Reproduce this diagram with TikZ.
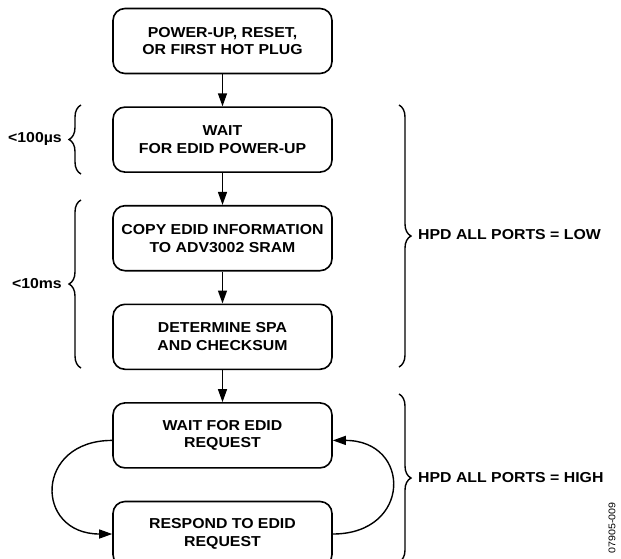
\documentclass[tikz,border=0pt]{standalone}
\usepackage{fontspec}
\setmainfont{Liberation Sans}[FakeStretch=1.1]
\usetikzlibrary{arrows.meta,positioning,decorations.pathreplacing}

\begin{document}
\begin{tikzpicture}[x=1pt, y=-1pt, node distance = 32pt,
                    auto, main/.style = {draw, line width=1.6pt, rounded corners=12pt,
                      minimum width=219pt, minimum height=65pt, inner sep=0pt, align=center,
                      font=\fontsize{14.4}{17.7}\selectfont\bfseries},
                    arr/.style = {-{Triangle[length=13pt,width=9pt]}, line width=1.4pt},
                    brc/.style = {decorate, decoration={brace, amplitude=#1}, line width=1.4pt},
                    lbl/.style = {font=\fontsize{14.4}{17}\selectfont\bfseries, inner sep=0pt}]
\useasboundingbox (0,0) rectangle (621,558);
\node[main] (pwr) at (222.5,41) {POWER-UP, RESET,\\OR FIRST HOT PLUG};
\node[main, below= of pwr] (wait) {WAIT\\FOR EDID POWER-UP};
\node[main, below= of wait] (copy) {COPY EDID INFORMATION\\TO ADV3002 SRAM};
\node[main, below= of copy] (spa) {DETERMINE SPA\\AND CHECKSUM};
\node[main, below= of spa] (req) {WAIT FOR EDID\\REQUEST};
\node[main, below= of req] (resp) {RESPOND TO EDID\\REQUEST};
    \path[arr]
(pwr) edge (wait)
(wait) edge (copy)
(copy) edge (spa)
(spa) edge (req);
% request loop
\draw[arr] ([yshift=-5pt]req.west) .. controls +(-78,0) and +(-78,0) .. (resp.west);
\draw[arr] (resp.east) .. controls +(79,0) and +(79,0) .. ([yshift=-5pt]req.east);
% timing braces
\draw[brc=12pt] (81,174) -- (81,105);
\draw[brc=12pt] (81,368) -- (81,200);
\draw[brc=12pt] (399,105) -- (399,367);
\draw[brc=12pt] (399,394) -- (399,562);
\node[lbl, anchor=east] (t100) at (62,139) {<100µs};
\node[lbl, anchor=east] (t10) at (62,284) {<10ms};
\node[lbl, anchor=west] (low) at (418,235) {HPD ALL PORTS = LOW};
\node[lbl, anchor=west] (high) at (418,478) {HPD ALL PORTS = HIGH};
\node[rotate=90, font=\fontsize{9.7}{12}\selectfont, inner sep=0pt] (fig) at (612,528) {07905-009};
\end{tikzpicture}
\end{document}
